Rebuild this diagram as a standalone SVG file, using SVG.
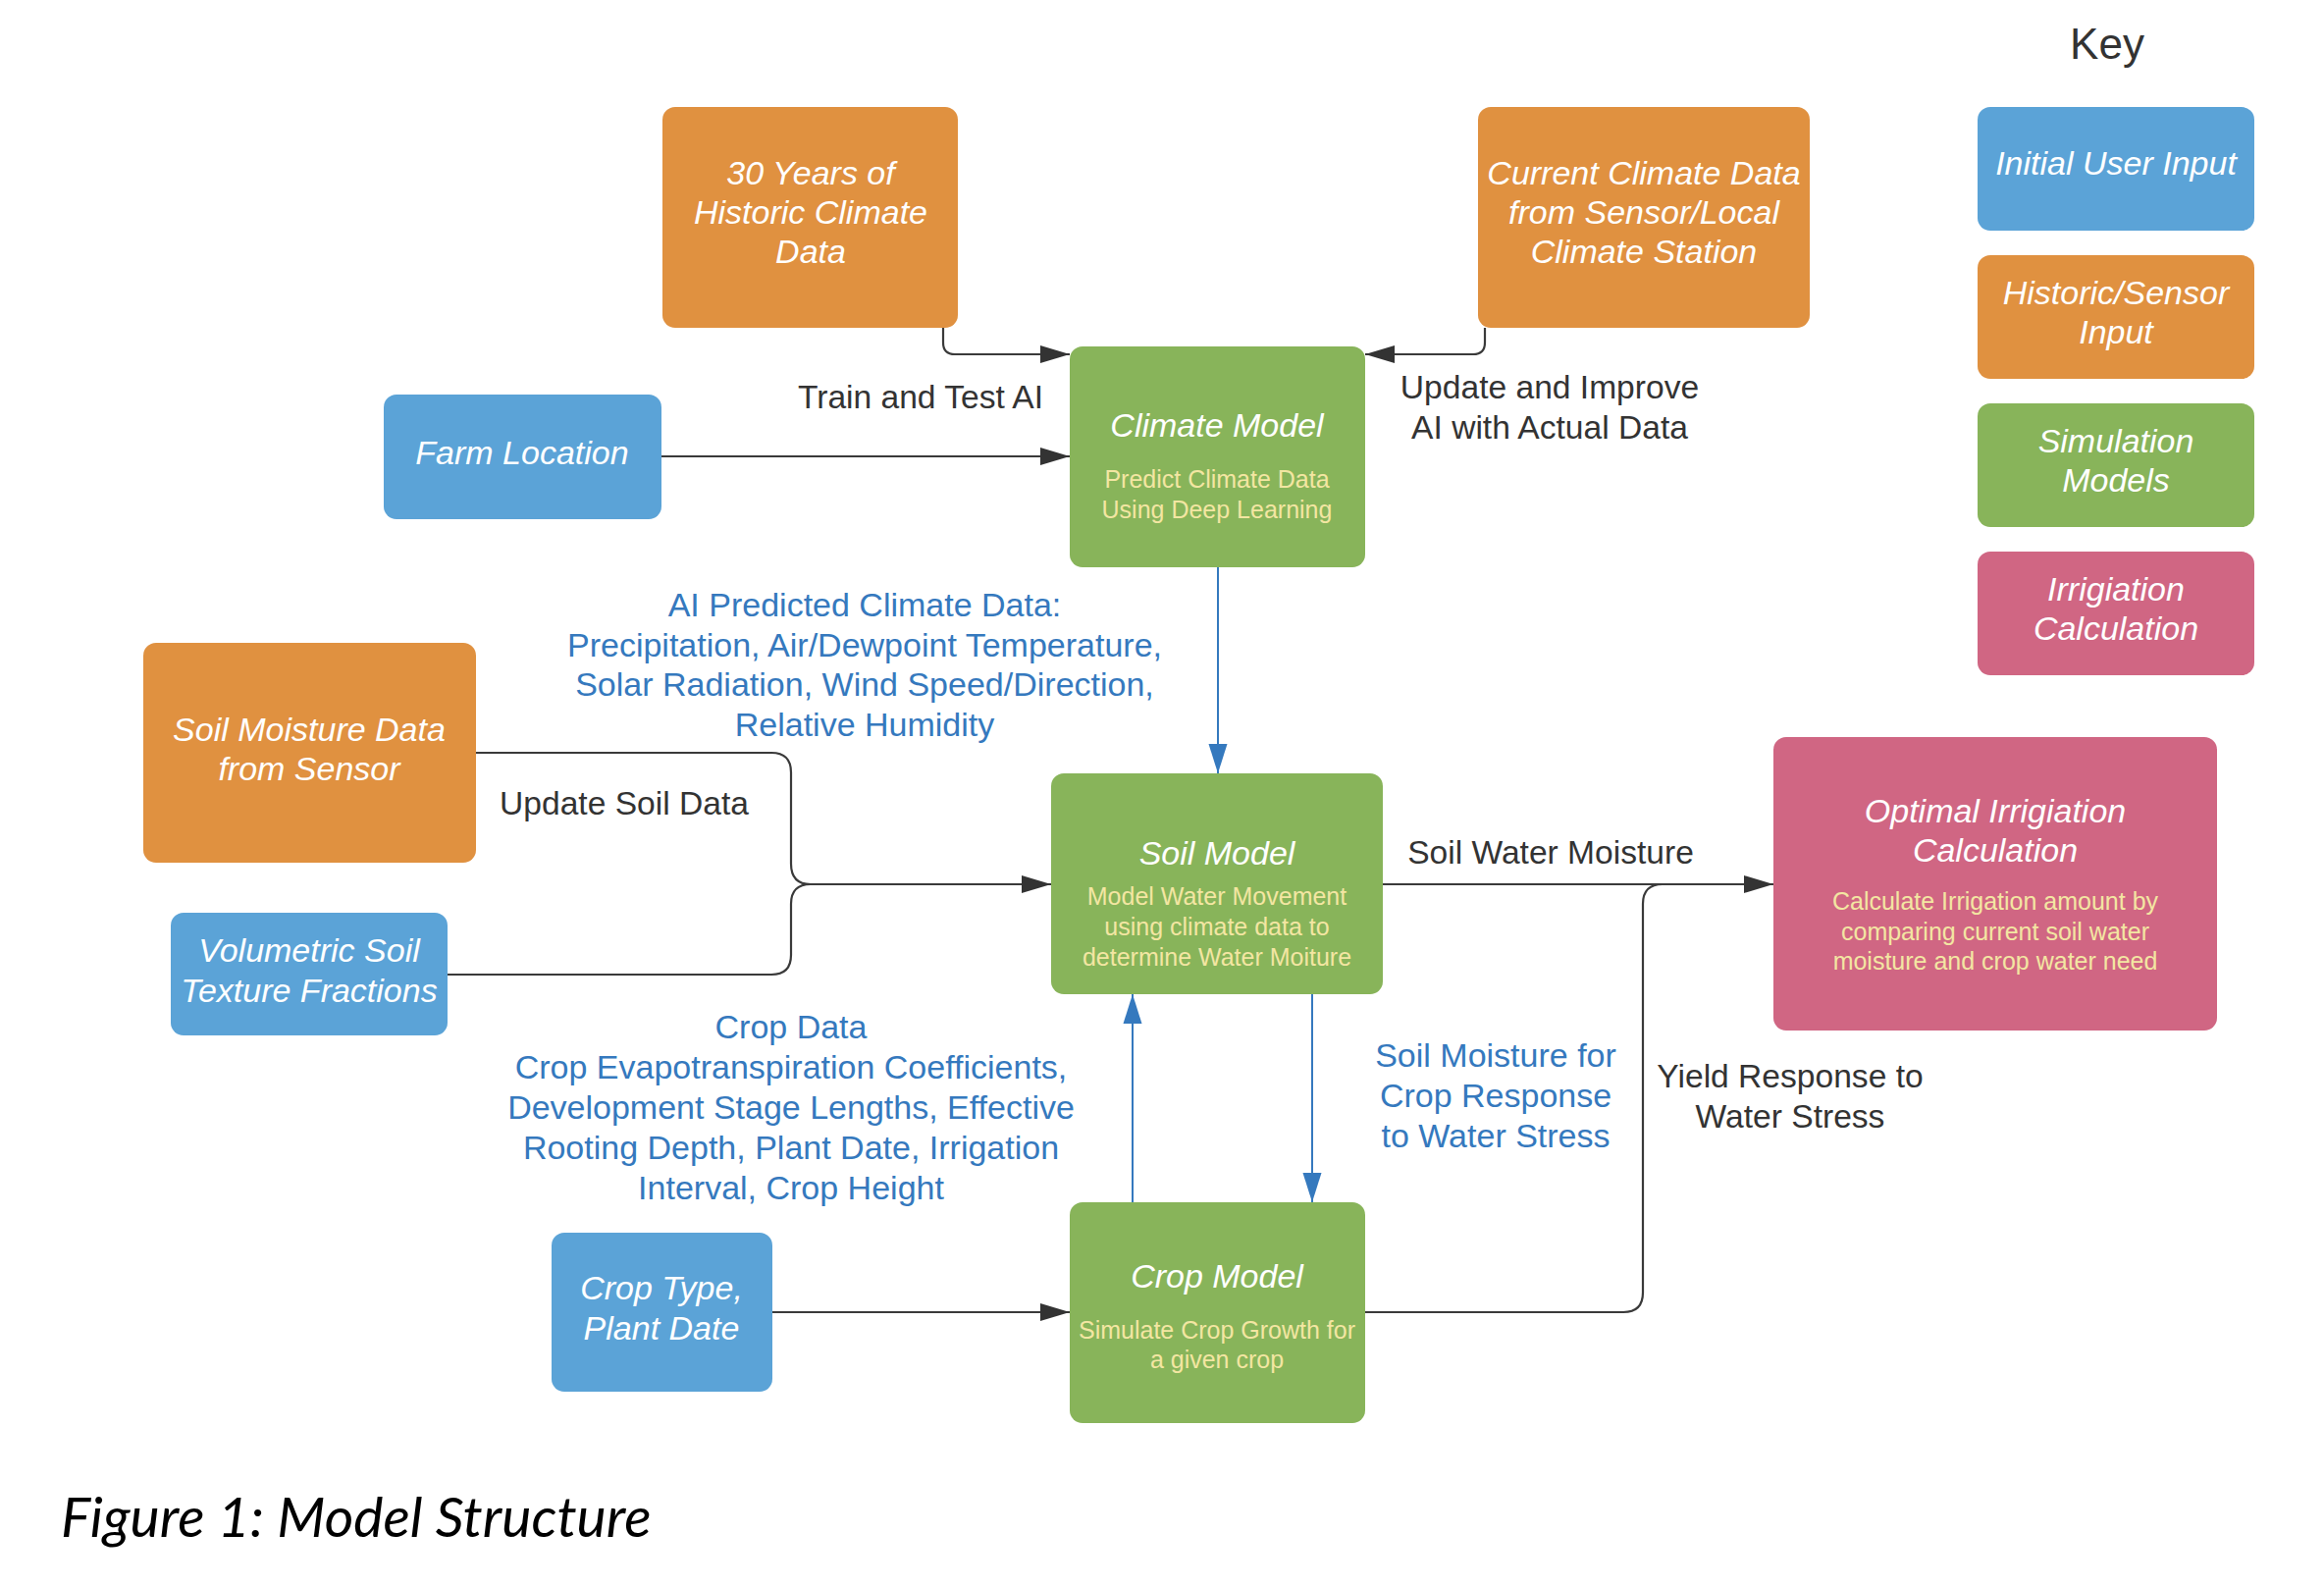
<svg xmlns="http://www.w3.org/2000/svg" width="2368" height="1616" viewBox="0 0 2368 1616">
<style>
  text { font-family: "Liberation Sans", Arial, sans-serif; text-anchor: middle; }
  .nt { font-size: 34px; font-style: italic; fill: #ffffff; }
  .st { font-size: 25px; fill: #f3e6a2; }
  .lb { font-size: 33.6px; fill: #333333; }
  .bl { font-size: 34px; fill: #3579be; }
  .blue { fill: #5ba3d7; }
  .orange { fill: #e09140; }
  .green { fill: #88b45a; }
  .pink { fill: #d06683; }
  .c { fill: none; stroke: #3a3a3a; stroke-width: 2.2; }
  .cb { fill: none; stroke: #3579be; stroke-width: 2; }
</style>
<defs>
  <marker id="ab" markerUnits="userSpaceOnUse" markerWidth="32" markerHeight="22" refX="30" refY="11" orient="auto">
    <path d="M0,2 L30,11 L0,20 z" fill="#333333"/>
  </marker>
  <marker id="abl" markerUnits="userSpaceOnUse" markerWidth="32" markerHeight="22" refX="30" refY="11" orient="auto">
    <path d="M0,1.5 L30,11 L0,20.5 z" fill="#3579be"/>
  </marker>
</defs>
<rect width="2368" height="1616" fill="#ffffff"/>

<g id="connectors">
  <path class="c" d="M961,334 V349 Q961,361 973,361 H1090" marker-end="url(#ab)"/>
  <path class="c" d="M1513,334 V349 Q1513,361 1501,361 H1391" marker-end="url(#ab)"/>
  <path class="c" d="M674,465 H1090" marker-end="url(#ab)"/>
  <path class="cb" d="M1241,578 V788" marker-end="url(#abl)"/>
  <path class="c" d="M485,767 H786 Q806,767 806,787 V880 Q806,901 826,901 H1071" marker-end="url(#ab)"/>
  <path class="c" d="M456,993 H786 Q806,993 806,973 V921 Q806,901 826,901"/>
  <path class="c" d="M1409,901 H1807" marker-end="url(#ab)"/>
  <path class="c" d="M1391,1337 H1654 Q1674,1337 1674,1317 V921 Q1674,901 1694,901"/>
  <path class="c" d="M787,1337 H1090" marker-end="url(#ab)"/>
  <path class="cb" d="M1154,1225 V1013" marker-end="url(#abl)"/>
  <path class="cb" d="M1337,1013 V1225" marker-end="url(#abl)"/>
</g>

<g id="labels">
  <text class="lb" x="938" y="416">Train and Test AI</text>
  <text class="lb" x="1579" y="406">Update and Improve</text>
  <text class="lb" x="1579" y="447">AI with Actual Data</text>
  <text class="bl" x="881" y="628">AI Predicted Climate Data:</text>
  <text class="bl" x="881" y="669">Precipitation, Air/Dewpoint Temperature,</text>
  <text class="bl" x="881" y="709">Solar Radiation, Wind Speed/Direction,</text>
  <text class="bl" x="881" y="750">Relative Humidity</text>
  <text class="lb" x="636" y="830">Update Soil Data</text>
  <text class="lb" x="1580" y="880">Soil Water Moisture</text>
  <text class="bl" x="806" y="1058">Crop Data</text>
  <text class="bl" x="806" y="1099">Crop Evapotranspiration Coefficients,</text>
  <text class="bl" x="806" y="1140">Development Stage Lengths, Effective</text>
  <text class="bl" x="806" y="1181">Rooting Depth, Plant Date, Irrigation</text>
  <text class="bl" x="806" y="1222">Interval, Crop Height</text>
  <text class="bl" x="1524" y="1087">Soil Moisture for</text>
  <text class="bl" x="1524" y="1128">Crop Response</text>
  <text class="bl" x="1524" y="1169">to Water Stress</text>
  <text class="lb" x="1824" y="1108">Yield Response to</text>
  <text class="lb" x="1824" y="1149">Water Stress</text>
</g>

<g id="historic-climate">
  <rect class="orange" x="675" y="109" width="301" height="225" rx="13"/>
  <text class="nt" x="826" y="188">30 Years of</text>
  <text class="nt" x="826" y="228">Historic Climate</text>
  <text class="nt" x="826" y="268">Data</text>
</g>
<g id="current-climate">
  <rect class="orange" x="1506" y="109" width="338" height="225" rx="13"/>
  <text class="nt" x="1675" y="188">Current Climate Data</text>
  <text class="nt" x="1675" y="228">from Sensor/Local</text>
  <text class="nt" x="1675" y="268">Climate Station</text>
</g>
<g id="farm-location">
  <rect class="blue" x="391" y="402" width="283" height="127" rx="13"/>
  <text class="nt" x="532" y="473">Farm Location</text>
</g>
<g id="climate-model">
  <rect class="green" x="1090" y="353" width="301" height="225" rx="13"/>
  <text class="nt" x="1240" y="445">Climate Model</text>
  <text class="st" x="1240" y="497">Predict Climate Data</text>
  <text class="st" x="1240" y="528">Using Deep Learning</text>
</g>
<g id="soil-moisture-sensor">
  <rect class="orange" x="146" y="655" width="339" height="224" rx="13"/>
  <text class="nt" x="315" y="755">Soil Moisture Data</text>
  <text class="nt" x="315" y="795">from Sensor</text>
</g>
<g id="volumetric-soil">
  <rect class="blue" x="174" y="930" width="282" height="125" rx="13"/>
  <text class="nt" x="315" y="980">Volumetric Soil</text>
  <text class="nt" x="315" y="1021">Texture Fractions</text>
</g>
<g id="soil-model">
  <rect class="green" x="1071" y="788" width="338" height="225" rx="13"/>
  <text class="nt" x="1240" y="881">Soil Model</text>
  <text class="st" x="1240" y="922">Model Water Movement</text>
  <text class="st" x="1240" y="953">using climate data to</text>
  <text class="st" x="1240" y="984">determine Water Moiture</text>
</g>
<g id="optimal-irrigation">
  <rect class="pink" x="1807" y="751" width="452" height="299" rx="13"/>
  <text class="nt" x="2033" y="838">Optimal Irrigiation</text>
  <text class="nt" x="2033" y="878">Calculation</text>
  <text class="st" x="2033" y="927">Calculate Irrigation amount by</text>
  <text class="st" x="2033" y="958">comparing current soil water</text>
  <text class="st" x="2033" y="988">moisture and crop water need</text>
</g>
<g id="crop-model">
  <rect class="green" x="1090" y="1225" width="301" height="225" rx="13"/>
  <text class="nt" x="1240" y="1312">Crop Model</text>
  <text class="st" x="1240" y="1364">Simulate Crop Growth for</text>
  <text class="st" x="1240" y="1394">a given crop</text>
</g>
<g id="crop-type">
  <rect class="blue" x="562" y="1256" width="225" height="162" rx="13"/>
  <text class="nt" x="674" y="1324">Crop Type,</text>
  <text class="nt" x="674" y="1365">Plant Date</text>
</g>

<g id="key">
  <text x="2147" y="60" style="font-size:44px; fill:#333333;">Key</text>
  <rect class="blue" x="2015" y="109" width="282" height="126" rx="13"/>
  <text class="nt" x="2156" y="178">Initial User Input</text>
  <rect class="orange" x="2015" y="260" width="282" height="126" rx="13"/>
  <text class="nt" x="2156" y="310">Historic/Sensor</text>
  <text class="nt" x="2156" y="350">Input</text>
  <rect class="green" x="2015" y="411" width="282" height="126" rx="13"/>
  <text class="nt" x="2156" y="461">Simulation</text>
  <text class="nt" x="2156" y="501">Models</text>
  <rect class="pink" x="2015" y="562" width="282" height="126" rx="13"/>
  <text class="nt" x="2156" y="612">Irrigiation</text>
  <text class="nt" x="2156" y="652">Calculation</text>
</g>

<text id="caption" x="62" y="1566" style="font-family: Lato, 'Liberation Sans', sans-serif; font-style: italic; font-size: 57px; fill: #000000; text-anchor: start;">Figure 1: Model Structure</text>
</svg>
